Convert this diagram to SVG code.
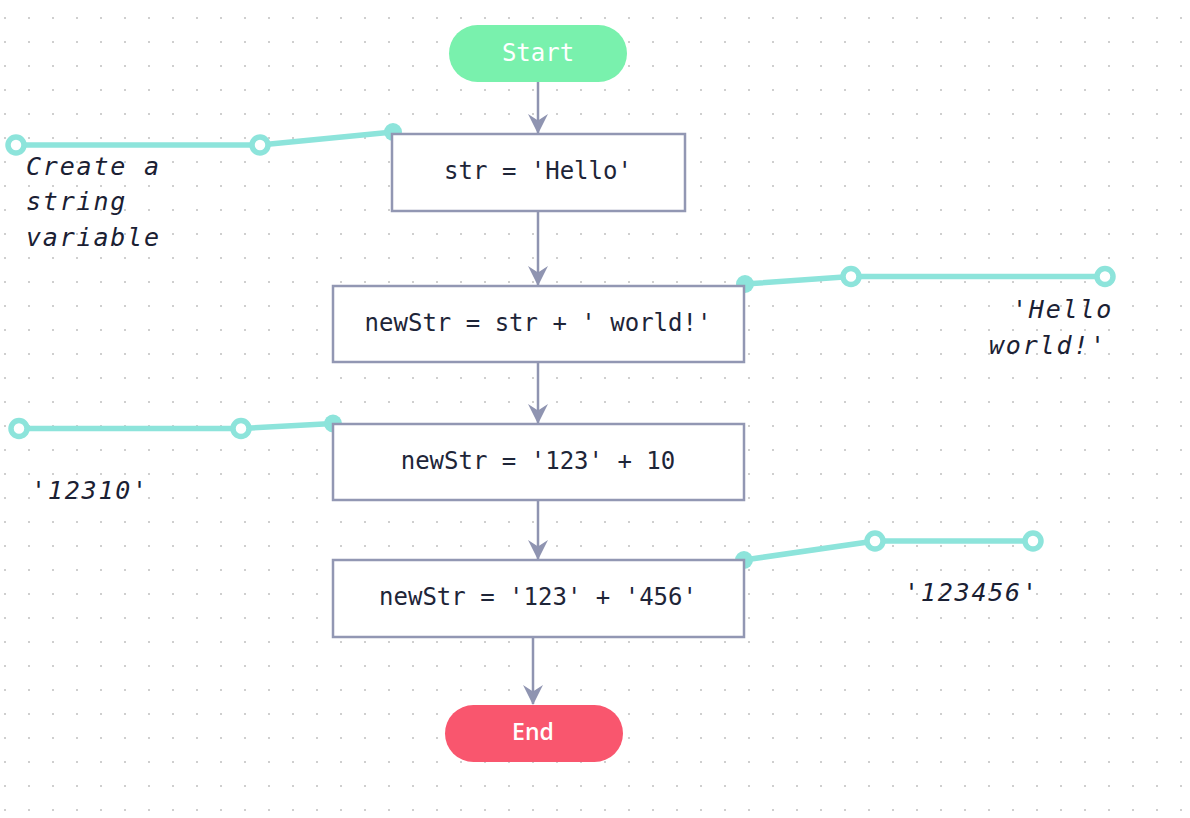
<svg xmlns="http://www.w3.org/2000/svg" width="1190" height="818" viewBox="0 0 1190 818">
  <defs>
    <pattern id="dots" x="4" y="17" width="24" height="24" patternUnits="userSpaceOnUse">
      <rect x="0" y="0" width="2" height="2" fill="#cfcfcf"/>
    </pattern>
    <marker id="arrow" viewBox="0 0 20 20" refX="18" refY="10" markerWidth="21" markerHeight="21" markerUnits="userSpaceOnUse" orient="auto">
      <path d="M0,0.5 L19,10 L0,19.5 L6,10 Z" fill="#8f94b1"/>
    </marker>
    <style>
      .box { fill: #ffffff; stroke: #9297b3; stroke-width: 2.5; }
      .code { font-family: "DejaVu Sans Mono", "Liberation Mono", monospace; font-size: 24px; fill: #1e2538; text-anchor: middle; }
      .note { font-family: "DejaVu Sans Mono", "Liberation Mono", monospace; font-size: 25px; font-style: italic; fill: #1a2033; letter-spacing: 1.8px; }
      .edge { stroke: #8f94b1; stroke-width: 2.5; fill: none; }
      .ann { stroke: #8de4db; stroke-width: 5.5; fill: none; stroke-linejoin: round; }
      .open { fill: #ffffff; stroke: #8de4db; stroke-width: 5.5; }
      .dot { fill: #8de4db; }
    </style>
  </defs>
  <rect width="1190" height="818" fill="#ffffff"/>
  <rect width="1190" height="818" fill="url(#dots)"/>

  <g id="annotation-lines">
    <polyline class="ann" points="16,145 260,145 393,132"/>
    <circle class="dot" cx="393" cy="132" r="9"/>
    <circle class="open" cx="16" cy="145" r="8"/>
    <circle class="open" cx="260" cy="145" r="8"/>

    <polyline class="ann" points="745,284 851,276.5 1105,276.5"/>
    <circle class="dot" cx="745" cy="284" r="9"/>
    <circle class="open" cx="851" cy="276.5" r="8"/>
    <circle class="open" cx="1105" cy="276.5" r="8"/>

    <polyline class="ann" points="19,428.5 241,428.5 333,423.5"/>
    <circle class="dot" cx="333" cy="423.5" r="9"/>
    <circle class="open" cx="19" cy="428.5" r="8"/>
    <circle class="open" cx="241" cy="428.5" r="8"/>

    <polyline class="ann" points="744,560 875,541 1033,541"/>
    <circle class="dot" cx="744" cy="560" r="9"/>
    <circle class="open" cx="875" cy="541" r="8"/>
    <circle class="open" cx="1033" cy="541" r="8"/>
  </g>

  <g id="connectors">
    <line class="edge" x1="538" y1="82" x2="538" y2="133" marker-end="url(#arrow)"/>
    <line class="edge" x1="538" y1="211" x2="538" y2="285" marker-end="url(#arrow)"/>
    <line class="edge" x1="538" y1="362" x2="538" y2="423" marker-end="url(#arrow)"/>
    <line class="edge" x1="538" y1="500" x2="538" y2="559" marker-end="url(#arrow)"/>
    <line class="edge" x1="533" y1="637" x2="533" y2="704" marker-end="url(#arrow)"/>
  </g>

  <g id="start">
    <rect x="449" y="25" width="178" height="57" rx="28.5" fill="#79f1ad"/>
    <text x="538" y="60.5" font-family="DejaVu Sans Mono, monospace" font-size="24" fill="#ffffff" text-anchor="middle">Start</text>
  </g>

  <g id="node1">
    <rect class="box" x="392" y="134" width="293" height="77"/>
    <text class="code" x="538" y="179">str = 'Hello'</text>
  </g>

  <g id="node2">
    <rect class="box" x="333" y="286" width="411" height="76"/>
    <text class="code" x="538" y="331">newStr = str + ' world!'</text>
  </g>

  <g id="node3">
    <rect class="box" x="333" y="424" width="411" height="76"/>
    <text class="code" x="538" y="469">newStr = '123' + 10</text>
  </g>

  <g id="node4">
    <rect class="box" x="333" y="560" width="411" height="77"/>
    <text class="code" x="538" y="605">newStr = '123' + '456'</text>
  </g>

  <g id="end">
    <rect x="445" y="705" width="178" height="57" rx="28.5" fill="#f9566e"/>
    <text x="533" y="740" font-family="Open Sans, Liberation Sans, sans-serif" font-weight="600" font-size="23" fill="#ffffff" text-anchor="middle">End</text>
  </g>

  <g id="notes">
    <text class="note" x="26" y="175">Create a</text>
    <text class="note" x="26" y="210">string</text>
    <text class="note" x="26" y="246">variable</text>
    <text class="note" x="1012" y="318">'Hello</text>
    <text class="note" x="989" y="354">world!'</text>
    <text class="note" x="31" y="499">'12310'</text>
    <text class="note" x="904" y="601">'123456'</text>
  </g>
</svg>
